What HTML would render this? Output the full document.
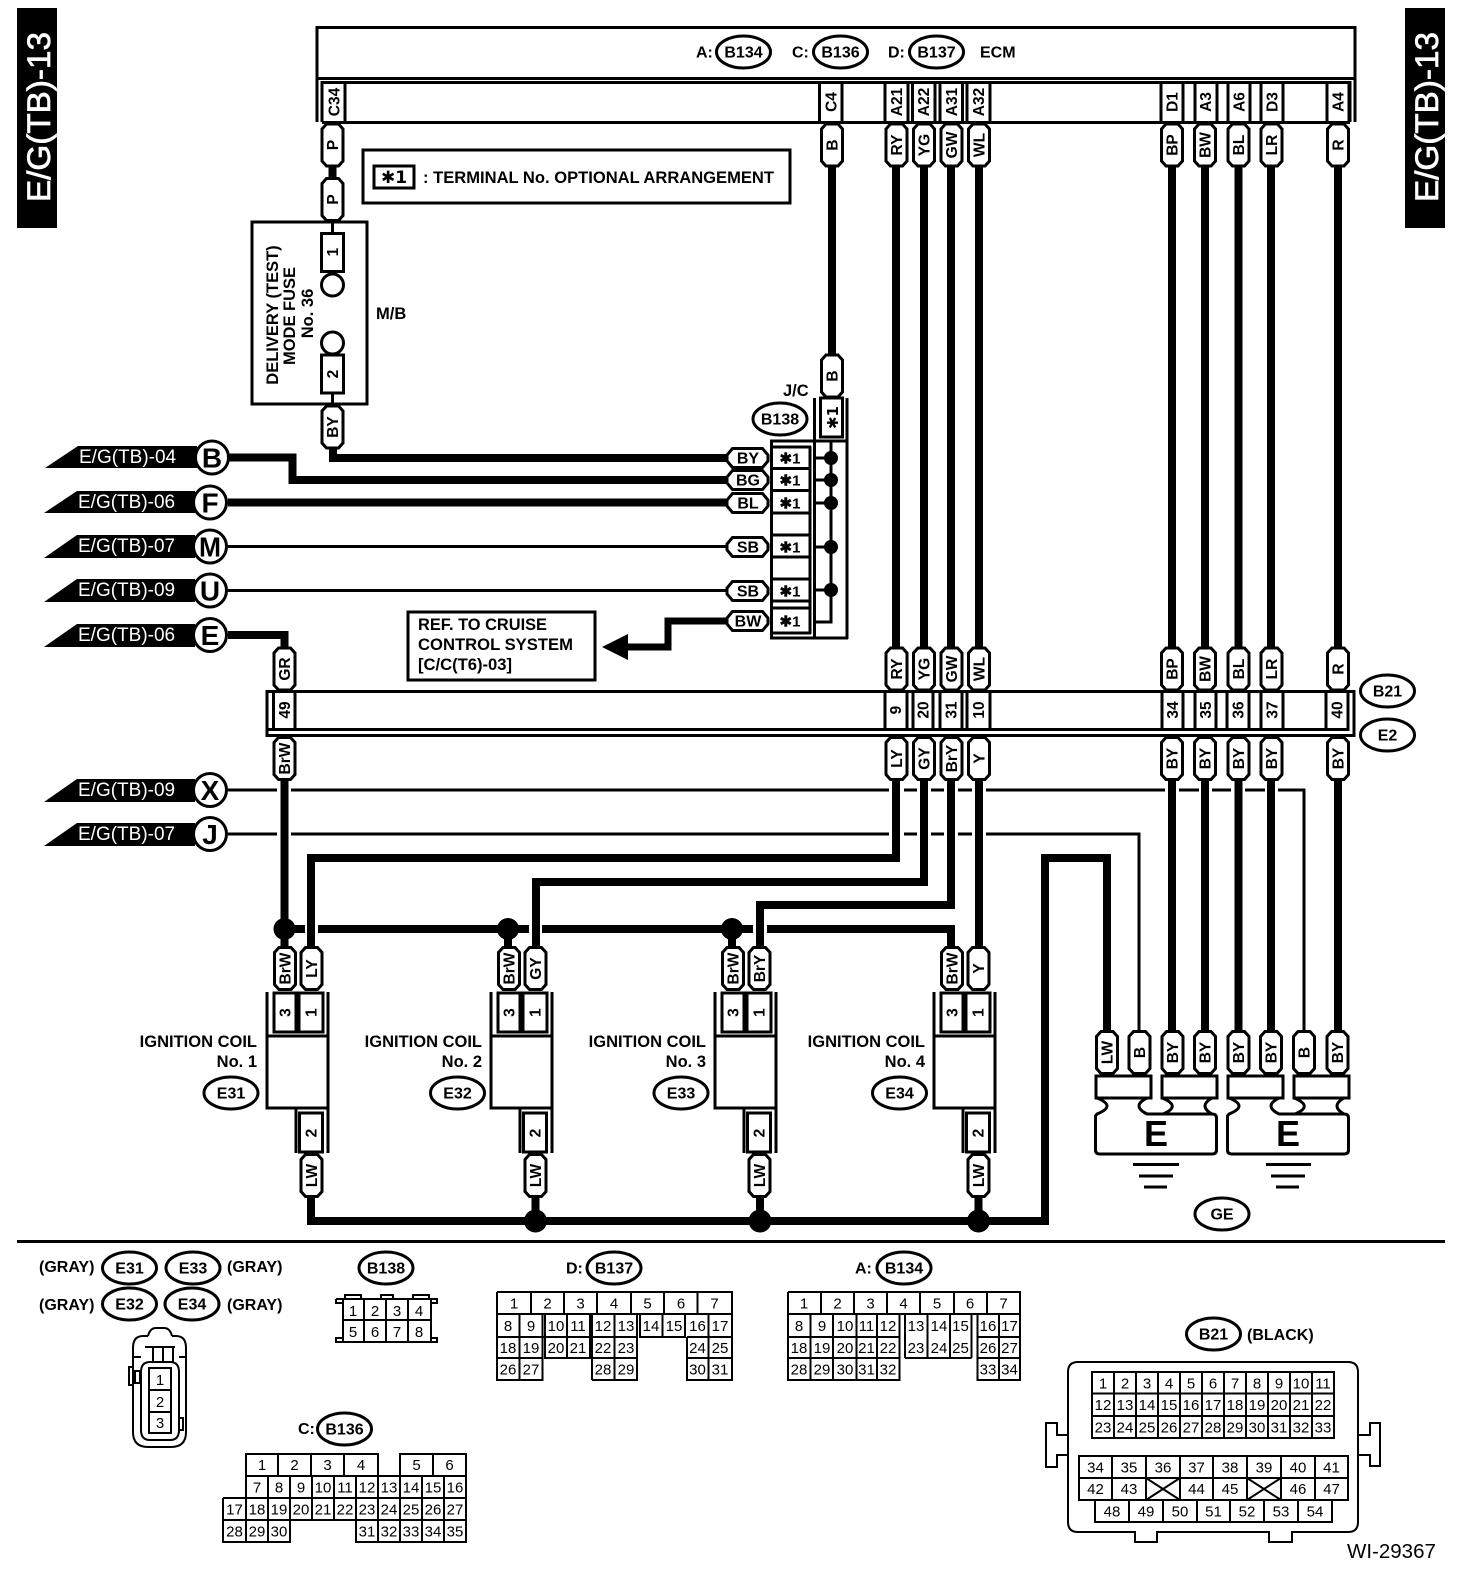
<!DOCTYPE html>
<html><head><meta charset="utf-8"><title>E/G(TB)-13</title>
<style>
html,body{margin:0;padding:0;background:#fff}
svg{display:block}
text{font-family:"Liberation Sans",sans-serif;fill:#000}
.b{font-weight:bold}
.l{font-weight:bold;font-size:16.5px}
.v{font-weight:bold;font-size:15.5px;text-anchor:middle}
.o{font-weight:bold;font-size:16px;text-anchor:middle}
.n{font-size:15px;text-anchor:middle}
.w{fill:#fff;font-size:19px}
.c{font-weight:bold;font-size:28px;text-anchor:middle}
.s{fill:none;stroke:#000;stroke-width:3}
.f{fill:#fff;stroke:#000;stroke-width:3}
.g{fill:none;stroke:#000;stroke-width:2}
.t{fill:none;stroke:#000;stroke-width:8}
.d{fill:#000}
.st{font-family:"DejaVu Sans","Liberation Sans",sans-serif}
</style></head><body>
<svg width="1472" height="1582" viewBox="0 0 1472 1582" xmlns="http://www.w3.org/2000/svg">
<defs>
<path id="pv" d="M-6,-21 L6,-21 L10.5,-16 L10.5,16 L6,21 L-6,21 L-10.5,16 L-10.5,-16Z" fill="#fff" stroke="#000" stroke-width="3"/>
<path id="ph" d="M-15,-9.5 L15,-9.5 L20.5,-3 L20.5,3 L15,9.5 L-15,9.5 L-20.5,3 L-20.5,-3Z" fill="#fff" stroke="#000" stroke-width="3"/>
<ellipse id="ov" cx="0" cy="0" rx="27" ry="16" fill="#fff" stroke="#000" stroke-width="3"/>
</defs>
<rect width="1472" height="1582" fill="#fff"/>

<!-- side tabs -->
<rect x="17" y="8" width="40" height="220" fill="#000"/>
<rect x="1405" y="8" width="40" height="220" fill="#000"/>
<text x="50" y="202" transform="rotate(-90 50 202)" font-size="32" textLength="170" lengthAdjust="spacingAndGlyphs" style="fill:#fff;stroke:#fff;stroke-width:.7">E/G(TB)-13</text>
<text x="1438" y="202" transform="rotate(-90 1438 202)" font-size="32" textLength="170" lengthAdjust="spacingAndGlyphs" style="fill:#fff;stroke:#fff;stroke-width:.7">E/G(TB)-13</text>

<!-- ECM -->
<path class="s" d="M317,122 V27.5 H1355 V122 M317,78.5 H1355 M322,122 V82.5 H1350 V122 M322,122.5 H1350"/>
<use href="#ov" x="743.5" y="52"/><use href="#ov" x="840.5" y="52"/><use href="#ov" x="936.5" y="52"/>
<text class="o" x="743.5" y="57.5">B134</text><text class="o" x="840.5" y="57.5">B136</text><text class="o" x="936.5" y="57.5">B137</text>
<text class="b" font-size="16" x="696" y="57.5">A:</text><text class="b" font-size="16" x="792" y="57.5">C:</text><text class="b" font-size="16" x="888" y="57.5">D:</text><text class="b" font-size="16" x="980" y="57.5">ECM</text>
<path class="s" d="M345,83V122 M819.5,83V122 M842,83V122 M885,83V122 M908,83V122 M912.5,83V122 M935,83V122 M940,83V122 M962.5,83V122 M967,83V122 M990,83V122 M1161,83V122 M1183,83V122 M1195,83V122 M1217,83V122 M1228,83V122 M1250,83V122 M1261,83V122 M1283,83V122 M1327,83V122 M1349,83V122"/>
<g>
<text class="v" x="339.5" y="102" transform="rotate(-90 339.5 102)">C34</text>
<text class="v" x="836.5" y="102" transform="rotate(-90 836.5 102)">C4</text>
<text class="v" x="902" y="102" transform="rotate(-90 902 102)">A21</text>
<text class="v" x="929" y="102" transform="rotate(-90 929 102)">A22</text>
<text class="v" x="957" y="102" transform="rotate(-90 957 102)">A31</text>
<text class="v" x="984" y="102" transform="rotate(-90 984 102)">A32</text>
<text class="v" x="1177.5" y="102" transform="rotate(-90 1177.5 102)">D1</text>
<text class="v" x="1211" y="102" transform="rotate(-90 1211 102)">A3</text>
<text class="v" x="1244.5" y="102" transform="rotate(-90 1244.5 102)">A6</text>
<text class="v" x="1277.5" y="102" transform="rotate(-90 1277.5 102)">D3</text>
<text class="v" x="1343.5" y="102" transform="rotate(-90 1343.5 102)">A4</text>
</g>

<!-- long vertical wires -->
<path class="t" d="M896,165V647 M924,165V647 M951,165V647 M979,165V647 M1172,165V647 M1205,165V647 M1238.5,165V647 M1271,165V647 M1338,165V647 M832,165V356 M332.5,165V179"/>

<!-- note -->
<rect class="f" x="363" y="150" width="427" height="53"/>
<rect class="f" x="374" y="166" width="40" height="22"/>
<text class="b st" x="394" y="183" font-size="17" text-anchor="middle">✱1</text>
<text class="b" x="423" y="183" font-size="16.5" textLength="351" lengthAdjust="spacingAndGlyphs">: TERMINAL No. OPTIONAL ARRANGEMENT</text>

<!-- fuse -->
<rect class="f" x="252" y="222" width="115" height="182"/>
<path class="s" d="M332.5,222V233 M332.5,394V405"/>
<rect class="f" x="321.5" y="233.5" width="22" height="38"/>
<rect class="f" x="321.5" y="355" width="22" height="38"/>
<circle class="f" cx="332.5" cy="285" r="11"/>
<circle class="f" cx="332.5" cy="343" r="11"/>
<text class="v" x="338" y="252" transform="rotate(-90 338 252)">1</text>
<text class="v" x="338" y="374" transform="rotate(-90 338 374)">2</text>
<text class="l" x="278" y="315" text-anchor="middle" transform="rotate(-90 278 315)">DELIVERY (TEST)</text>
<text class="l" x="295" y="316" text-anchor="middle" transform="rotate(-90 295 316)">MODE FUSE</text>
<text class="l" x="313" y="313.5" text-anchor="middle" transform="rotate(-90 313 313.5)">No. 36</text>
<text class="l" x="376" y="319">M/B</text>

<!-- left wires -->
<path class="t" d="M228,457.5H292.5V480H726 M333,449V458H726 M228,502.5H726"/>
<path class="s" d="M228,546.5H726 M228,590.5H726"/>
<path class="t" d="M228,635H284.5V650"/>
<path fill="none" stroke="#000" stroke-width="7" d="M726,621H668V647H625"/>
<polygon class="d" points="602,647 628,634 628,660"/>

<!-- left connectors -->
<polygon class="d" points="45,468 78,446 197,446 197,468"/>
<polygon class="d" points="44,513 77,491 195,491 195,513"/>
<polygon class="d" points="44,558 77,535 195,535 195,558"/>
<polygon class="d" points="44,602 77,579 195,579 195,602"/>
<polygon class="d" points="44,647 77,624 195,624 195,647"/>
<polygon class="d" points="44,802 77,779 195,779 195,802"/>
<polygon class="d" points="44,846 77,823 195,823 195,846"/>
<text class="w" x="79" y="463">E/G(TB)-04</text>
<text class="w" x="78" y="508">E/G(TB)-06</text>
<text class="w" x="78" y="552">E/G(TB)-07</text>
<text class="w" x="78" y="596">E/G(TB)-09</text>
<text class="w" x="78" y="641">E/G(TB)-06</text>
<text class="w" x="78" y="796">E/G(TB)-09</text>
<text class="w" x="78" y="840">E/G(TB)-07</text>
<circle class="f" cx="212" cy="457.5" r="16.5"/><text class="c" x="212" y="467.5">B</text>
<circle class="f" cx="210" cy="502.5" r="16.5"/><text class="c" x="210" y="512.5">F</text>
<circle class="f" cx="210" cy="546.5" r="16.5"/><text class="c" x="210" y="556.5" textLength="22" lengthAdjust="spacingAndGlyphs">M</text>
<circle class="f" cx="210" cy="590.5" r="16.5"/><text class="c" x="210" y="600.5">U</text>
<circle class="f" cx="210" cy="635" r="16.5"/><text class="c" x="210" y="645">E</text>
<circle class="f" cx="210" cy="790" r="16.5"/><text class="c" x="210" y="800">X</text>
<circle class="f" cx="210" cy="834" r="16.5"/><text class="c" x="210" y="844">J</text>

<!-- REF -->
<rect class="f" x="408" y="612" width="187" height="68"/>
<text class="l" x="418" y="630" textLength="129" lengthAdjust="spacingAndGlyphs">REF. TO CRUISE</text>
<text class="l" x="418" y="650" textLength="155" lengthAdjust="spacingAndGlyphs">CONTROL SYSTEM</text>
<text class="l" x="418" y="670" textLength="94" lengthAdjust="spacingAndGlyphs">[C/C(T6)-03]</text>

<!-- J/C -->
<text class="l" x="783" y="396">J/C</text>
<use href="#ov" x="780" y="419"/><text class="o" x="780" y="424.5">B138</text>
<path class="s" d="M814.5,398V638 M847,398V639 M770,441H847 M770,638H848 M771.5,441V638"/>
<rect class="f" x="820.5" y="398" width="22" height="39"/>
<text class="b st" x="838" y="417.5" font-size="15" text-anchor="middle" transform="rotate(-90 838 417.5)">✱1</text>
<path class="s" d="M771,447H811 M771,468.5H811 M771,490.5H811 M771,513H811 M771,535H811 M771,557H811 M771,579H811 M771,601H811 M771,608H811 M771,633H811 M810,446V634"/>
<g class="b st" font-size="15" text-anchor="middle">
<text x="790" y="463.5">✱1</text><text x="790" y="485.5">✱1</text><text x="790" y="508.5">✱1</text><text x="790" y="552.5">✱1</text><text x="790" y="596.5">✱1</text><text x="790" y="626.5">✱1</text>
</g>
<path class="s" d="M831,441V622H815 M815,458H831 M815,480H831 M815,503H831 M815,547H831 M815,590H831"/>
<circle class="d" cx="831" cy="458" r="7"/><circle class="d" cx="831" cy="480" r="7"/><circle class="d" cx="831" cy="503" r="7"/><circle class="d" cx="831" cy="547" r="7"/><circle class="d" cx="831" cy="590" r="7"/>
<use href="#ph" x="747.5" y="458"/><use href="#ph" x="747.5" y="480"/><use href="#ph" x="747.5" y="503"/><use href="#ph" x="747.5" y="547"/><use href="#ph" x="747.5" y="591"/><use href="#ph" x="747.5" y="621"/>
<g class="o">
<text x="748" y="463.5">BY</text><text x="748" y="485.5">BG</text><text x="748" y="508.5">BL</text><text x="748" y="552.5">SB</text><text x="748" y="596.5">SB</text><text x="748" y="626.5">BW</text>
</g>

<!-- B21/E2 block -->
<path class="s" d="M267,691.5H1354V735.5H267Z M267,729.5H1348V692 M273.5,692V729 M295,692V729 M885,692V729 M907,692V729 M913,692V729 M933,692V729 M940,692V729 M962,692V729 M967,692V729 M990,692V729 M1162,692V729 M1183,692V729 M1195,692V729 M1216,692V729 M1227,692V729 M1249,692V729 M1261,692V729 M1283,692V729 M1326,692V729"/>
<g>
<text class="v" x="290" y="710" transform="rotate(-90 290 710)">49</text>
<text class="v" x="901" y="710" transform="rotate(-90 901 710)">9</text>
<text class="v" x="928.5" y="710" transform="rotate(-90 928.5 710)">20</text>
<text class="v" x="956.5" y="710" transform="rotate(-90 956.5 710)">31</text>
<text class="v" x="984" y="710" transform="rotate(-90 984 710)">10</text>
<text class="v" x="1178" y="710" transform="rotate(-90 1178 710)">34</text>
<text class="v" x="1211" y="710" transform="rotate(-90 1211 710)">35</text>
<text class="v" x="1243.5" y="710" transform="rotate(-90 1243.5 710)">36</text>
<text class="v" x="1277.5" y="710" transform="rotate(-90 1277.5 710)">37</text>
<text class="v" x="1342.5" y="710" transform="rotate(-90 1342.5 710)">40</text>
</g>
<use href="#ov" x="1387.5" y="691"/><text class="o" x="1387.5" y="696.5">B21</text>
<use href="#ov" x="1387.5" y="735"/><text class="o" x="1387.5" y="740.5">E2</text>

<!-- thin crossing lines -->
<path class="s" d="M228,790H277 M291,790H889 M904,790H917 M931,790H944 M958,790H972 M986,790H1165 M1179,790H1199 M1212,790H1231 M1245,790H1265 M1278,790H1304V1032
M228,834H277 M291,834H889 M904,834H917 M931,834H944 M958,834H972 M986,834H1139V1032"/>

<!-- lower wires -->
<path class="t" d="M284.5,778V950 M896,778V858H311V950 M924,778V882H536V950 M951,778V905H760V950 M979,778V950 M1172,778V1032 M1205,778V1032 M1238.5,778V1032 M1271,778V1032 M1338,778V1032
M305,929H284 M318,929H529 M542,929H753 M767,929H951V950
M311,1195V1221H1045V858H1107V1032 M535.5,1195V1221 M760,1195V1221 M978.5,1195V1221 M508,929V950 M732,929V950" style="stroke-linejoin:miter"/>
<circle class="d" cx="284.5" cy="929" r="11"/><circle class="d" cx="508" cy="929" r="11"/><circle class="d" cx="732" cy="929" r="11"/>
<circle class="d" cx="535.5" cy="1221" r="11.5"/><circle class="d" cx="760" cy="1221" r="11.5"/><circle class="d" cx="978.5" cy="1221" r="11.5"/>

<!-- pills on ECM / B21 -->
<use href="#pv" x="332.5" y="145"/><use href="#pv" x="332.5" y="199.5"/><use href="#pv" x="332.5" y="427"/><use href="#pv" x="832" y="145"/><use href="#pv" x="832" y="376"/>
<text class="v" x="338" y="145" transform="rotate(-90 338 145)">P</text>
<text class="v" x="338" y="199.5" transform="rotate(-90 338 199.5)">P</text>
<text class="v" x="338" y="427" transform="rotate(-90 338 427)">BY</text>
<text class="v" x="837.5" y="145" transform="rotate(-90 837.5 145)">B</text>
<text class="v" x="837.5" y="376" transform="rotate(-90 837.5 376)">B</text>

<use href="#pv" x="896.5" y="145"/><use href="#pv" x="924" y="145"/><use href="#pv" x="951.5" y="145"/><use href="#pv" x="979" y="145"/><use href="#pv" x="1172" y="145"/><use href="#pv" x="1205" y="145"/><use href="#pv" x="1238.5" y="145"/><use href="#pv" x="1271.5" y="145"/><use href="#pv" x="1338" y="145"/>
<text class="v" x="902" y="145" transform="rotate(-90 902 145)">RY</text>
<text class="v" x="929.5" y="145" transform="rotate(-90 929.5 145)">YG</text>
<text class="v" x="957" y="145" transform="rotate(-90 957 145)">GW</text>
<text class="v" x="984.5" y="145" transform="rotate(-90 984.5 145)">WL</text>
<text class="v" x="1177.5" y="145" transform="rotate(-90 1177.5 145)">BP</text>
<text class="v" x="1210.5" y="145" transform="rotate(-90 1210.5 145)">BW</text>
<text class="v" x="1244" y="145" transform="rotate(-90 1244 145)">BL</text>
<text class="v" x="1277" y="145" transform="rotate(-90 1277 145)">LR</text>
<text class="v" x="1343.5" y="145" transform="rotate(-90 1343.5 145)">R</text>

<use href="#pv" x="284.5" y="669"/><use href="#pv" x="896.5" y="669"/><use href="#pv" x="924" y="669"/><use href="#pv" x="951.5" y="669"/><use href="#pv" x="979" y="669"/><use href="#pv" x="1172" y="669"/><use href="#pv" x="1205" y="669"/><use href="#pv" x="1238.5" y="669"/><use href="#pv" x="1271.5" y="669"/><use href="#pv" x="1338" y="669"/>
<text class="v" x="290" y="669" transform="rotate(-90 290 669)">GR</text>
<text class="v" x="902" y="669" transform="rotate(-90 902 669)">RY</text>
<text class="v" x="929.5" y="669" transform="rotate(-90 929.5 669)">YG</text>
<text class="v" x="957" y="669" transform="rotate(-90 957 669)">GW</text>
<text class="v" x="984.5" y="669" transform="rotate(-90 984.5 669)">WL</text>
<text class="v" x="1177.5" y="669" transform="rotate(-90 1177.5 669)">BP</text>
<text class="v" x="1210.5" y="669" transform="rotate(-90 1210.5 669)">BW</text>
<text class="v" x="1244" y="669" transform="rotate(-90 1244 669)">BL</text>
<text class="v" x="1277" y="669" transform="rotate(-90 1277 669)">LR</text>
<text class="v" x="1343.5" y="669" transform="rotate(-90 1343.5 669)">R</text>

<use href="#pv" x="284.5" y="758.5"/><use href="#pv" x="896.5" y="758.5"/><use href="#pv" x="924" y="758.5"/><use href="#pv" x="951.5" y="758.5"/><use href="#pv" x="979" y="758.5"/><use href="#pv" x="1172" y="758.5"/><use href="#pv" x="1205" y="758.5"/><use href="#pv" x="1238.5" y="758.5"/><use href="#pv" x="1271.5" y="758.5"/><use href="#pv" x="1338" y="758.5"/>
<text class="v" x="290" y="758.5" transform="rotate(-90 290 758.5)">BrW</text>
<text class="v" x="902" y="758.5" transform="rotate(-90 902 758.5)">LY</text>
<text class="v" x="929.5" y="758.5" transform="rotate(-90 929.5 758.5)">GY</text>
<text class="v" x="957" y="758.5" transform="rotate(-90 957 758.5)">BrY</text>
<text class="v" x="984.5" y="758.5" transform="rotate(-90 984.5 758.5)">Y</text>
<text class="v" x="1177.5" y="758.5" transform="rotate(-90 1177.5 758.5)">BY</text>
<text class="v" x="1210.5" y="758.5" transform="rotate(-90 1210.5 758.5)">BY</text>
<text class="v" x="1244" y="758.5" transform="rotate(-90 1244 758.5)">BY</text>
<text class="v" x="1277" y="758.5" transform="rotate(-90 1277 758.5)">BY</text>
<text class="v" x="1343.5" y="758.5" transform="rotate(-90 1343.5 758.5)">BY</text>

<!-- coil 1 -->
<g>
<path class="s" d="M267,992V1108H328 M296,1108V1153 M328,992V1153 M267,1036H328"/>
<rect class="s" x="274" y="993" width="22" height="39"/><rect class="s" x="299" y="993" width="24" height="39"/><rect class="s" x="299.5" y="1113" width="23" height="39"/>
<text class="v" x="290.5" y="1012.5" transform="rotate(-90 290.5 1012.5)">3</text>
<text class="v" x="316.5" y="1012.5" transform="rotate(-90 316.5 1012.5)">1</text>
<text class="v" x="316.5" y="1133" transform="rotate(-90 316.5 1133)">2</text>
<use href="#pv" x="285" y="968.5"/><use href="#pv" x="311.5" y="968.5"/><use href="#pv" x="311.5" y="1175.5"/>
<text class="v" x="290.5" y="968.5" transform="rotate(-90 290.5 968.5)">BrW</text>
<text class="v" x="317" y="968.5" transform="rotate(-90 317 968.5)">LY</text>
<text class="v" x="317" y="1175.5" transform="rotate(-90 317 1175.5)">LW</text>
</g>
<text class="l" x="257" y="1047" text-anchor="end">IGNITION COIL</text><text class="l" x="257" y="1067" text-anchor="end">No. 1</text>
<use href="#ov" x="231" y="1093"/><text class="o" x="231" y="1098.5">E31</text>
<!-- coil 2 -->
<g transform="translate(224,0)">
<path class="s" d="M267,992V1108H328 M296,1108V1153 M328,992V1153 M267,1036H328"/>
<rect class="s" x="274" y="993" width="22" height="39"/><rect class="s" x="299" y="993" width="24" height="39"/><rect class="s" x="299.5" y="1113" width="23" height="39"/>
<text class="v" x="290.5" y="1012.5" transform="rotate(-90 290.5 1012.5)">3</text>
<text class="v" x="316.5" y="1012.5" transform="rotate(-90 316.5 1012.5)">1</text>
<text class="v" x="316.5" y="1133" transform="rotate(-90 316.5 1133)">2</text>
<use href="#pv" x="285" y="968.5"/><use href="#pv" x="311.5" y="968.5"/><use href="#pv" x="311.5" y="1175.5"/>
<text class="v" x="290.5" y="968.5" transform="rotate(-90 290.5 968.5)">BrW</text>
<text class="v" x="317" y="968.5" transform="rotate(-90 317 968.5)">GY</text>
<text class="v" x="317" y="1175.5" transform="rotate(-90 317 1175.5)">LW</text>
</g>
<text class="l" x="482" y="1047" text-anchor="end">IGNITION COIL</text><text class="l" x="482" y="1067" text-anchor="end">No. 2</text>
<use href="#ov" x="457.5" y="1093"/><text class="o" x="457.5" y="1098.5">E32</text>
<!-- coil 3 -->
<g transform="translate(448,0)">
<path class="s" d="M267,992V1108H328 M296,1108V1153 M328,992V1153 M267,1036H328"/>
<rect class="s" x="274" y="993" width="22" height="39"/><rect class="s" x="299" y="993" width="24" height="39"/><rect class="s" x="299.5" y="1113" width="23" height="39"/>
<text class="v" x="290.5" y="1012.5" transform="rotate(-90 290.5 1012.5)">3</text>
<text class="v" x="316.5" y="1012.5" transform="rotate(-90 316.5 1012.5)">1</text>
<text class="v" x="316.5" y="1133" transform="rotate(-90 316.5 1133)">2</text>
<use href="#pv" x="285" y="968.5"/><use href="#pv" x="311.5" y="968.5"/><use href="#pv" x="311.5" y="1175.5"/>
<text class="v" x="290.5" y="968.5" transform="rotate(-90 290.5 968.5)">BrW</text>
<text class="v" x="317" y="968.5" transform="rotate(-90 317 968.5)">BrY</text>
<text class="v" x="317" y="1175.5" transform="rotate(-90 317 1175.5)">LW</text>
</g>
<text class="l" x="706" y="1047" text-anchor="end">IGNITION COIL</text><text class="l" x="706" y="1067" text-anchor="end">No. 3</text>
<use href="#ov" x="681" y="1093"/><text class="o" x="681" y="1098.5">E33</text>
<!-- coil 4 -->
<g transform="translate(667,0)">
<path class="s" d="M267,992V1108H328 M296,1108V1153 M328,992V1153 M267,1036H328"/>
<rect class="s" x="274" y="993" width="22" height="39"/><rect class="s" x="299" y="993" width="24" height="39"/><rect class="s" x="299.5" y="1113" width="23" height="39"/>
<text class="v" x="290.5" y="1012.5" transform="rotate(-90 290.5 1012.5)">3</text>
<text class="v" x="316.5" y="1012.5" transform="rotate(-90 316.5 1012.5)">1</text>
<text class="v" x="316.5" y="1133" transform="rotate(-90 316.5 1133)">2</text>
<use href="#pv" x="285" y="968.5"/><use href="#pv" x="311.5" y="968.5"/><use href="#pv" x="311.5" y="1175.5"/>
<text class="v" x="290.5" y="968.5" transform="rotate(-90 290.5 968.5)">BrW</text>
<text class="v" x="317" y="968.5" transform="rotate(-90 317 968.5)">Y</text>
<text class="v" x="317" y="1175.5" transform="rotate(-90 317 1175.5)">LW</text>
</g>
<text class="l" x="925" y="1047" text-anchor="end">IGNITION COIL</text><text class="l" x="925" y="1067" text-anchor="end">No. 4</text>
<use href="#ov" x="899.5" y="1093"/><text class="o" x="899.5" y="1098.5">E34</text>

<!-- E grounds -->
<g>
<use href="#pv" x="1107" y="1052.5"/><use href="#pv" x="1139.5" y="1052.5"/><use href="#pv" x="1172.5" y="1052.5"/><use href="#pv" x="1205" y="1052.5"/><use href="#pv" x="1238.5" y="1052.5"/><use href="#pv" x="1271" y="1052.5"/><use href="#pv" x="1304" y="1052.5"/><use href="#pv" x="1337.5" y="1052.5"/>
<text class="v" x="1112.5" y="1052.5" transform="rotate(-90 1112.5 1052.5)">LW</text>
<text class="v" x="1145" y="1052.5" transform="rotate(-90 1145 1052.5)">B</text>
<text class="v" x="1178" y="1052.5" transform="rotate(-90 1178 1052.5)">BY</text>
<text class="v" x="1210.5" y="1052.5" transform="rotate(-90 1210.5 1052.5)">BY</text>
<text class="v" x="1244" y="1052.5" transform="rotate(-90 1244 1052.5)">BY</text>
<text class="v" x="1276.5" y="1052.5" transform="rotate(-90 1276.5 1052.5)">BY</text>
<text class="v" x="1309.5" y="1052.5" transform="rotate(-90 1309.5 1052.5)">B</text>
<text class="v" x="1343" y="1052.5" transform="rotate(-90 1343 1052.5)">BY</text>
</g>
<rect class="s" x="1096" y="1076" width="55" height="22"/><rect class="s" x="1162" y="1076" width="55" height="22"/><rect class="s" x="1228" y="1076" width="55" height="22"/><rect class="s" x="1294" y="1076" width="55" height="22"/>
<path class="s" d="M1097,1098 Q1117,1106 1097,1114 L1095.5,1116 V1150 Q1095.5,1154 1100,1154 H1212 Q1216.5,1154 1216.5,1150 V1118 Q1216.5,1114 1212,1114 Q1198,1106 1212,1098 M1212,1114 H1147 Q1131,1106 1147,1098 M1162,1098 Q1182,1106 1163,1114"/>
<path class="s" transform="translate(132,0)" d="M1097,1098 Q1117,1106 1097,1114 L1095.5,1116 V1150 Q1095.5,1154 1100,1154 H1212 Q1216.5,1154 1216.5,1150 V1118 Q1216.5,1114 1212,1114 Q1198,1106 1212,1098 M1212,1114 H1147 Q1131,1106 1147,1098 M1162,1098 Q1182,1106 1163,1114"/>
<text class="b" x="1156" y="1146" font-size="36" text-anchor="middle">E</text>
<text class="b" x="1288" y="1146" font-size="36" text-anchor="middle">E</text>
<path class="s" d="M1133,1164.5H1179 M1139,1176H1173 M1144,1187H1167 M1266,1164.5H1311 M1271,1176H1305 M1276,1187H1299"/>
<use href="#ov" x="1222" y="1214"/><text class="o" x="1222" y="1219.5">GE</text>

<!-- divider -->
<rect x="17" y="1240" width="1428" height="3" fill="#000"/>

<!-- bottom left labels -->
<text class="b" x="39" y="1272" font-size="16">(GRAY)</text>
<text class="b" x="227" y="1272" font-size="16">(GRAY)</text>
<text class="b" x="39" y="1310" font-size="16">(GRAY)</text>
<text class="b" x="227" y="1310" font-size="16">(GRAY)</text>
<use href="#ov" x="129.5" y="1268"/><text class="o" x="129.5" y="1273.5">E31</text>
<use href="#ov" x="193" y="1268"/><text class="o" x="193" y="1273.5">E33</text>
<use href="#ov" x="129.5" y="1304"/><text class="o" x="129.5" y="1309.5">E32</text>
<use href="#ov" x="192" y="1304"/><text class="o" x="192" y="1309.5">E34</text>
<use href="#ov" x="386" y="1268"/><text class="o" x="386" y="1273.5">B138</text>

<!-- B138 connector -->
<path class="g" d="M343,1299H431V1342H343Z M343,1320H431 M364,1299V1342 M386,1299V1342 M408,1299V1342 M336,1299H343 M336,1299V1303H343 M336,1338H343V1342H336Z M431,1299H437V1303H431 M431,1338H437V1342H431Z M345,1299V1295H361V1299 M381,1299V1295H393V1299 M413,1299V1295H429V1299"/>
<g class="n">
<text x="353" y="1316">1</text><text x="375" y="1316">2</text><text x="397" y="1316">3</text><text x="419" y="1316">4</text>
<text x="353" y="1337">5</text><text x="375" y="1337">6</text><text x="397" y="1337">7</text><text x="419" y="1337">8</text>
</g>

<!-- Coil connector -->
<path class="g" d="M148,1336Q150,1328 156,1328H164Q170,1328 172,1336 M148,1336H143Q133,1336 133,1348V1432Q133,1447 148,1447H171Q186,1447 186,1432V1348Q186,1336 176,1336H172 M141,1372Q141,1362 150,1362H170Q179,1362 179,1372V1430Q179,1440 170,1440H150Q141,1440 141,1430Z M145,1347H175 M153,1347V1362 M163,1347V1362 M173,1347V1362 M133,1367H129V1385H133 M135,1371H140V1383H135Z M179,1418H183V1430H179 M133,1357H141 M179,1357H186"/>
<path class="g" d="M149,1368H171V1433H149Z M149,1390H171 M149,1412H171"/>
<g class="n"><text x="160" y="1385">1</text><text x="160" y="1407">2</text><text x="160" y="1428">3</text></g>

<!-- C: B136 -->
<text class="b" x="298" y="1434" font-size="16">C:</text>
<use href="#ov" x="344.5" y="1429"/><text class="o" x="344.5" y="1434.5">B136</text>
<path class="g" d="M246,1476V1454H378V1476 M400,1476V1454H466V1542H356V1520 M246,1476H466 M223,1498H466 M223,1520H466 M223,1498V1542H290V1520 M278,1454V1476 M311,1454V1476 M344,1454V1476 M433,1454V1476 M246,1476V1542 M268,1476V1542 M290,1476V1520 M312,1476V1520 M334,1476V1520 M356,1476V1520 M378,1476V1542 M400,1476V1542 M422,1476V1542 M444,1476V1542"/>
<g class="n">
<text x="262" y="1470">1</text><text x="294.5" y="1470">2</text><text x="327.5" y="1470">3</text><text x="361" y="1470">4</text><text x="416.5" y="1470">5</text><text x="449.5" y="1470">6</text>
<text x="257" y="1492.5">7</text><text x="279" y="1492.5">8</text><text x="301" y="1492.5">9</text><text x="323" y="1492.5">10</text><text x="345" y="1492.5">11</text><text x="367" y="1492.5">12</text><text x="389" y="1492.5">13</text><text x="411" y="1492.5">14</text><text x="433" y="1492.5">15</text><text x="455" y="1492.5">16</text>
<text x="234.5" y="1514.5">17</text><text x="257" y="1514.5">18</text><text x="279" y="1514.5">19</text><text x="301" y="1514.5">20</text><text x="323" y="1514.5">21</text><text x="345" y="1514.5">22</text><text x="367" y="1514.5">23</text><text x="389" y="1514.5">24</text><text x="411" y="1514.5">25</text><text x="433" y="1514.5">26</text><text x="455" y="1514.5">27</text>
<text x="234.5" y="1536.5">28</text><text x="257" y="1536.5">29</text><text x="279" y="1536.5">30</text><text x="367" y="1536.5">31</text><text x="389" y="1536.5">32</text><text x="411" y="1536.5">33</text><text x="433" y="1536.5">34</text><text x="455" y="1536.5">35</text>
</g>

<!-- D: B137 -->
<text class="b" x="566" y="1273.5" font-size="16">D:</text>
<use href="#ov" x="614" y="1268"/><text class="o" x="614" y="1273.5">B137</text>
<path class="g" d="M497,1292H732V1380H687V1337 M497,1292V1380H542.5V1337 M592,1380H637V1314 M592,1380V1314 M497,1314H732 M497,1337H637 M687,1337H732 M497,1358H542.5 M592,1358H637 M687,1358H732 M531,1292V1314 M564,1292V1314 M597,1292V1314 M631,1292V1314 M664,1292V1314 M697.5,1292V1314 M519.5,1314V1380 M542.5,1314V1337 M545,1314V1358H590V1314 M567,1314V1358 M614.5,1314V1380 M640,1314V1337H685V1314 M662.5,1314V1337 M708.5,1314V1380"/>
<g class="n">
<text x="514" y="1308.5">1</text><text x="547.5" y="1308.5">2</text><text x="580.5" y="1308.5">3</text><text x="614" y="1308.5">4</text><text x="647.5" y="1308.5">5</text><text x="681" y="1308.5">6</text><text x="714.5" y="1308.5">7</text>
<text x="508" y="1331">8</text><text x="531" y="1331">9</text><text x="556" y="1331">10</text><text x="578" y="1331">11</text><text x="603" y="1331">12</text><text x="626" y="1331">13</text><text x="651" y="1331">14</text><text x="674" y="1331">15</text><text x="697.5" y="1331">16</text><text x="720" y="1331">17</text>
<text x="508" y="1353">18</text><text x="531" y="1353">19</text><text x="556" y="1353">20</text><text x="578" y="1353">21</text><text x="603" y="1353">22</text><text x="626" y="1353">23</text><text x="697.5" y="1353">24</text><text x="720" y="1353">25</text>
<text x="508" y="1374.5">26</text><text x="531" y="1374.5">27</text><text x="603" y="1374.5">28</text><text x="626" y="1374.5">29</text><text x="697.5" y="1374.5">30</text><text x="720" y="1374.5">31</text>
</g>

<!-- A: B134 -->
<text class="b" x="855" y="1273.5" font-size="16">A:</text>
<use href="#ov" x="904" y="1268"/><text class="o" x="904" y="1273.5">B134</text>
<path class="g" d="M788,1292H1020V1380H977.5V1314 M788,1292V1380H899.5V1314 M788,1314H1020 M788,1337H899.5 M905,1358H971.5 M977.5,1337H1020 M788,1358H899.5 M977.5,1358H1020 M905,1314V1358 M971.5,1314V1358 M821,1292V1314 M854,1292V1314 M887,1292V1314 M920,1292V1314 M954,1292V1314 M987,1292V1314 M810.5,1314V1380 M833,1314V1380 M856.5,1314V1380 M877,1314V1380 M927.5,1314V1358 M950,1314V1358 M999,1314V1380"/>
<g class="n">
<text x="804" y="1308.5">1</text><text x="837.5" y="1308.5">2</text><text x="870.5" y="1308.5">3</text><text x="903.5" y="1308.5">4</text><text x="937" y="1308.5">5</text><text x="970" y="1308.5">6</text><text x="1003.5" y="1308.5">7</text>
<text x="799" y="1331">8</text><text x="822" y="1331">9</text><text x="845" y="1331">10</text><text x="866.5" y="1331">11</text><text x="888" y="1331">12</text><text x="916" y="1331">13</text><text x="939" y="1331">14</text><text x="960.5" y="1331">15</text><text x="988" y="1331">16</text><text x="1009.5" y="1331">17</text>
<text x="799" y="1353">18</text><text x="822" y="1353">19</text><text x="845" y="1353">20</text><text x="866.5" y="1353">21</text><text x="888" y="1353">22</text><text x="916" y="1353">23</text><text x="939" y="1353">24</text><text x="960.5" y="1353">25</text><text x="988" y="1353">26</text><text x="1009.5" y="1353">27</text>
<text x="799" y="1374.5">28</text><text x="822" y="1374.5">29</text><text x="845" y="1374.5">30</text><text x="866.5" y="1374.5">31</text><text x="888" y="1374.5">32</text><text x="988" y="1374.5">33</text><text x="1009.5" y="1374.5">34</text>
</g>

<!-- B21 connector -->
<use href="#ov" x="1213.5" y="1334"/><text class="o" x="1213.5" y="1339.5">B21</text>
<text class="b" x="1247" y="1340" font-size="16">(BLACK)</text>
<path class="g" d="M1078,1362H1348Q1358,1362 1358,1372V1435H1370V1423H1380V1466H1370V1455H1358V1522Q1358,1532 1348,1532H1292V1542H1269V1532H1157V1542H1135V1532H1078Q1068,1532 1068,1522V1455H1057V1467H1046V1423H1057V1435H1068V1372Q1068,1362 1078,1362Z M1068,1435V1455 M1358,1435V1455"/>
<path class="g" d="M1092,1372H1334V1438H1092Z M1092,1393.5H1334 M1092,1416H1334 M1114,1372V1438 M1136,1372V1438 M1158,1372V1438 M1180,1372V1438 M1202,1372V1438 M1224,1372V1438 M1246,1372V1438 M1268,1372V1438 M1290,1372V1438 M1312,1372V1438
M1079,1456H1348V1500H1079Z M1079,1478H1348 M1112,1456V1500 M1146,1456V1500 M1180,1456V1500 M1213,1456V1500 M1247,1456V1500 M1281,1456V1500 M1315,1456V1500
M1095,1500V1522H1332V1500 M1129,1500V1522 M1163,1500V1522 M1197,1500V1522 M1230,1500V1522 M1264,1500V1522 M1298,1500V1522
M1146,1478L1180,1500 M1180,1478L1146,1500 M1247,1478L1281,1500 M1281,1478L1247,1500"/>
<g class="n">
<text x="1103" y="1388.5">1</text><text x="1125" y="1388.5">2</text><text x="1147" y="1388.5">3</text><text x="1169" y="1388.5">4</text><text x="1191" y="1388.5">5</text><text x="1213" y="1388.5">6</text><text x="1235" y="1388.5">7</text><text x="1257" y="1388.5">8</text><text x="1279" y="1388.5">9</text><text x="1301" y="1388.5">10</text><text x="1323" y="1388.5">11</text>
<text x="1103" y="1410">12</text><text x="1125" y="1410">13</text><text x="1147" y="1410">14</text><text x="1169" y="1410">15</text><text x="1191" y="1410">16</text><text x="1213" y="1410">17</text><text x="1235" y="1410">18</text><text x="1257" y="1410">19</text><text x="1279" y="1410">20</text><text x="1301" y="1410">21</text><text x="1323" y="1410">22</text>
<text x="1103" y="1432.5">23</text><text x="1125" y="1432.5">24</text><text x="1147" y="1432.5">25</text><text x="1169" y="1432.5">26</text><text x="1191" y="1432.5">27</text><text x="1213" y="1432.5">28</text><text x="1235" y="1432.5">29</text><text x="1257" y="1432.5">30</text><text x="1279" y="1432.5">31</text><text x="1301" y="1432.5">32</text><text x="1323" y="1432.5">33</text>
<text x="1095.5" y="1472.5">34</text><text x="1129" y="1472.5">35</text><text x="1163" y="1472.5">36</text><text x="1196.5" y="1472.5">37</text><text x="1230" y="1472.5">38</text><text x="1264" y="1472.5">39</text><text x="1298" y="1472.5">40</text><text x="1331.5" y="1472.5">41</text>
<text x="1095.5" y="1494">42</text><text x="1129" y="1494">43</text><text x="1196.5" y="1494">44</text><text x="1230" y="1494">45</text><text x="1298" y="1494">46</text><text x="1331.5" y="1494">47</text>
<text x="1112" y="1516.5">48</text><text x="1146" y="1516.5">49</text><text x="1180" y="1516.5">50</text><text x="1213.5" y="1516.5">51</text><text x="1247" y="1516.5">52</text><text x="1281" y="1516.5">53</text><text x="1315" y="1516.5">54</text>
</g>
<text x="1347" y="1558" font-size="20.5">WI-29367</text>
</svg>
</body></html>
